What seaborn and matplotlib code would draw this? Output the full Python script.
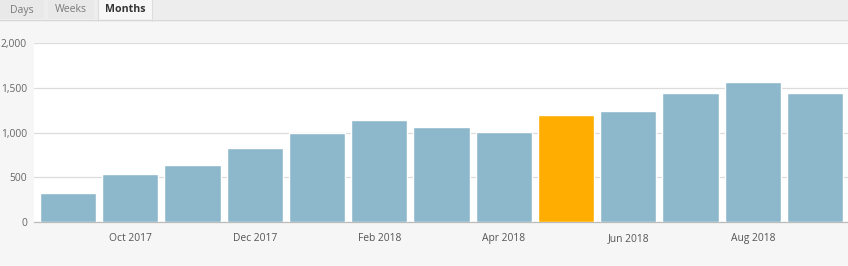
import matplotlib
matplotlib.use("Agg")
import matplotlib.pyplot as plt
import seaborn as sns
import pandas as pd
from matplotlib.patches import Rectangle

months = ["Sep 2017", "Oct 2017", "Nov 2017", "Dec 2017", "Jan 2018", "Feb 2018",
          "Mar 2018", "Apr 2018", "May 2018", "Jun 2018", "Jul 2018", "Aug 2018", "Sep 2018"]
views = [324, 536, 637, 827, 994, 1140, 1061, 1005, 1196, 1240, 1445, 1561, 1445]
highlight = "May 2018"
y_ticks = [0, 500, 1000, 1500, 2000]
y_tick_labels = ["0", "500", "1,000", "1,500", "2,000"]
tabs = ["Days", "Weeks", "Months"]

BLUE = "#8db8cc"
ORANGE = "#ffad00"

sns.set_style("white")
plt.rcParams["font.family"] = ["Open Sans", "DejaVu Sans"]

df = pd.DataFrame({"month": months, "views": views})
palette = {m: (ORANGE if m == highlight else BLUE) for m in months}

W, H = 848, 266
fig = plt.figure(figsize=(W / 100, H / 100), dpi=100)
fig.patch.set_facecolor("#f6f6f6")

# tab bar
fig.patches.append(Rectangle((0, 1 - 19 / H), 1, 19 / H, transform=fig.transFigure,
                             facecolor="#ededed", edgecolor="none", zorder=0))
fig.lines.append(plt.Line2D([0, 1], [1 - 19.5 / H] * 2, transform=fig.transFigure,
                            color="#d6d6d6", lw=1))
tab_specs = [(0, 44, "#e9e9e9", "#7a7a7a", "normal"),
             (48, 94, "#e9e9e9", "#7a7a7a", "normal"),
             (98, 152, "#f7f7f7", "#333333", "bold")]
for name, (x0, x1, fc, tc, fw) in zip(tabs, tab_specs):
    top = 1.0
    bot = 1 - 20.5 / H if fw == "bold" else 1 - 19 / H
    fig.patches.append(Rectangle((x0 / W, bot), (x1 - x0) / W, top - bot,
                                 transform=fig.transFigure, facecolor=fc,
                                 edgecolor="none", zorder=1))
    if fw == "bold":
        for xx in (x0, x1):
            fig.lines.append(plt.Line2D([xx / W] * 2, [bot, 1], transform=fig.transFigure,
                                        color="#dddddd", lw=0.8))
    fig.text((x0 + x1) / 2 / W, 1 - 10 / H, name, ha="center", va="center",
             fontsize=7.6, color=tc, fontweight=fw)

ax = fig.add_axes([34 / W, 44 / H, (W - 34) / W, 179 / H])
ax.set_facecolor("white")
sns.barplot(data=df, x="month", y="views", hue="month", palette=palette,
            legend=False, width=0.9, saturation=1, ax=ax, zorder=3)

ax.set_xlim(-0.546, 12.53)
ax.set_ylim(0, 2000)
ax.set_yticks(y_ticks)
ax.set_yticklabels(y_tick_labels)
ax.set_xticks(range(1, len(months), 2))
ax.set_xticklabels([months[i] for i in range(1, len(months), 2)])
ax.set_xlabel("")
ax.set_ylabel("")
ax.grid(axis="y", color="#dcdcdc", lw=0.9, zorder=0)
ax.set_axisbelow(True)
for s in ["top", "right", "left"]:
    ax.spines[s].set_visible(False)
ax.spines["bottom"].set_color("#bbbbbb")
ax.spines["bottom"].set_linewidth(0.9)
ax.tick_params(axis="y", length=0, pad=5, labelsize=7.4, labelcolor="#666666")
ax.tick_params(axis="x", length=0, pad=8, labelsize=7.4, labelcolor="#555555")

fig.savefig("out.png", dpi=100, facecolor=fig.get_facecolor())
